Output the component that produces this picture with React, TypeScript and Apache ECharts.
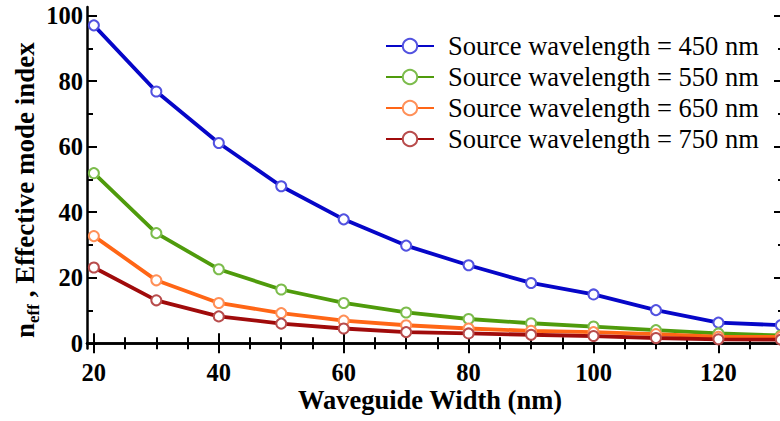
import React, { useEffect, useRef } from "react";
import * as echarts from "echarts";

const widths = [20, 30, 40, 50, 60, 70, 80, 90, 100, 110, 120, 130];
const seriesNames = [
  "Source wavelength = 450 nm",
  "Source wavelength = 550 nm",
  "Source wavelength = 650 nm",
  "Source wavelength = 750 nm",
];
const neff450 = [97, 76.8, 61.1, 47.9, 37.8, 29.8, 23.8, 18.4, 14.9, 10.1, 6.3, 5.5];
const neff550 = [51.9, 33.6, 22.6, 16.4, 12.3, 9.4, 7.4, 6.1, 5.1, 4.0, 3.0, 2.4];
const neff650 = [32.7, 19.2, 12.3, 9.2, 6.9, 5.5, 4.5, 3.8, 3.4, 2.8, 2.0, 1.9];
const neff750 = [23.1, 13.1, 8.2, 6.0, 4.5, 3.4, 3.0, 2.6, 2.2, 1.6, 1.2, 1.1];

const xMajorTicks = [20, 40, 60, 80, 100, 120];
const xMinorTicks = [25, 30, 35, 45, 50, 55, 65, 70, 75, 85, 90, 95, 105, 110, 115, 125, 130];
const yMajorTicks = [0, 20, 40, 60, 80, 100];
const yMinorTicks = [10, 30, 50, 70, 90];

const lineColors = ["#0606c8", "#4f9b0c", "#ff6616", "#a00b0b"];
const markerColors = ["#5252e0", "#7cbc4c", "#ff9058", "#b84c4c"];

const FONT = "Liberation Serif";

export default function App() {
  const ref = useRef<HTMLDivElement>(null);
  useEffect(() => {
    if (!ref.current) return;
    const chart = echarts.init(ref.current, undefined, { renderer: "svg" });
    const xMin = 18.9;
    const xMax = 130.5;
    const yMin = -1.6;
    const yMax = 102.6;
    const tickLine = { color: "#000", width: 2 };
    const frameLine = { show: true, lineStyle: { color: "#000", width: 2.5 } };
    const labelStyle = {
      fontFamily: FONT,
      fontWeight: "bold" as const,
      fontSize: 24.5,
      lineHeight: 18,
      color: "#000",
    };
    const mkX = (position: string, major: boolean, labels: boolean) => ({
      type: "value",
      position,
      min: xMin,
      max: xMax,
      axisLine: major ? frameLine : { show: false },
      axisTick: {
        show: true,
        inside: true,
        length: major ? 10 : 6,
        customValues: major ? xMajorTicks : xMinorTicks,
        lineStyle: tickLine,
      },
      axisLabel: labels
        ? { show: true, customValues: xMajorTicks, margin: 15, ...labelStyle }
        : { show: false },
      splitLine: { show: false },
    });
    const mkY = (position: string, major: boolean, labels: boolean) => ({
      type: "value",
      position,
      min: yMin,
      max: yMax,
      axisLine: major ? frameLine : { show: false },
      axisTick: {
        show: true,
        inside: true,
        length: major ? 10 : 6,
        customValues: major ? yMajorTicks : yMinorTicks,
        lineStyle: tickLine,
      },
      axisLabel: labels
        ? { show: true, customValues: yMajorTicks, margin: 4, ...labelStyle }
        : { show: false },
      splitLine: { show: false },
    });
    const allValues = [neff450, neff550, neff650, neff750];
    chart.setOption({
      animation: false,
      backgroundColor: "#fff",
      grid: {
        left: 87,
        top: 7,
        right: -4,
        bottom: 72.5,
        containLabel: false,
        outerBoundsMode: "none",
      },
      xAxis: [
        mkX("bottom", true, true),
        mkX("bottom", false, false),
        mkX("top", true, false),
        mkX("top", false, false),
      ],
      yAxis: [
        mkY("left", true, true),
        mkY("left", false, false),
        mkY("right", true, false),
        mkY("right", false, false),
      ],
      legend: {
        orient: "vertical",
        left: 380,
        top: 25.5,
        itemWidth: 48,
        itemHeight: 18,
        itemGap: 0,
        formatter: "{t|{name}}",
        textStyle: {
          fontFamily: FONT,
          fontSize: 26.5,
          color: "#000",
          lineHeight: 31,
          rich: {
            t: {
              fontFamily: FONT,
              fontSize: 26.5,
              color: "#000",
              lineHeight: 31,
              padding: [0, 0, 0, 9],
            },
          },
        },
        data: seriesNames,
      },
      series: allValues.map((vals, i) => ({
        name: seriesNames[i],
        type: "line",
        xAxisIndex: 0,
        yAxisIndex: 0,
        data: widths.map((w, j) => [w, vals[j]]),
        symbol: "emptyCircle",
        symbolSize: 10,
        showSymbol: true,
        color: markerColors[i],
        lineStyle: { color: lineColors[i], width: 3.8 },
        itemStyle: { color: markerColors[i], borderWidth: 1.5 },
      })),
      graphic: [
        {
          type: "text",
          x: 430,
          y: 400,
          style: {
            text: "Waveguide Width (nm)",
            fontFamily: FONT,
            fontWeight: "bold",
            fontSize: 26.5,
            lineHeight: 20,
            fill: "#000",
            align: "center",
            verticalAlign: "middle",
          },
        },
        {
          type: "group",
          x: 25,
          y: 338,
          rotation: Math.PI / 2,
          children: [
            {
              type: "text",
              x: 0,
              y: 0,
              style: {
                text: "n",
                fontFamily: FONT,
                fontWeight: "bold",
                fontSize: 27,
                fill: "#000",
                align: "left",
                verticalAlign: "middle",
              },
            },
            {
              type: "text",
              x: 15,
              y: 8,
              style: {
                text: "eff",
                fontFamily: FONT,
                fontWeight: "bold",
                fontSize: 17,
                fill: "#000",
                align: "left",
                verticalAlign: "middle",
              },
            },
            {
              type: "text",
              x: 34,
              y: 0,
              style: {
                text: " , Effective mode index",
                fontFamily: FONT,
                fontWeight: "bold",
                fontSize: 27,
                fill: "#000",
                align: "left",
                verticalAlign: "middle",
              },
            },
          ],
        },
      ],
    });
    return () => chart.dispose();
  }, []);
  return (
    <div
      ref={ref}
      style={{ position: "absolute", left: 0, top: 0, width: 780, height: 421 }}
    />
  );
}
